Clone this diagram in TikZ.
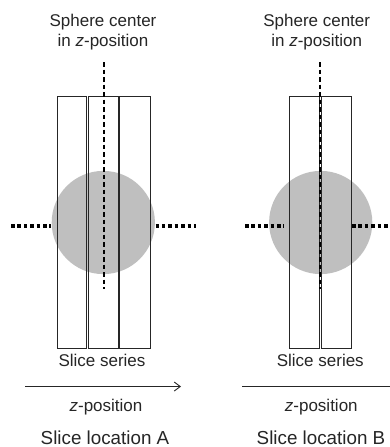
\documentclass[tikz,border=0pt]{standalone}
\usepackage{fontspec}
\setmainfont{Liberation Sans}
\usetikzlibrary{arrows.meta}
\begin{document}
\begin{tikzpicture}[x=1pt,y=-1pt,
  lbl/.style={font=\fontsize{17}{19}\selectfont, anchor=base, inner sep=0pt, text=black!85},
  biglbl/.style={font=\fontsize{18.8}{21}\selectfont, anchor=base, inner sep=0pt, text=black!85},
  slicebox/.style={draw=black!85, line width=1pt},
  sphere/.style={fill=black!25, draw=none},
  centerline/.style={draw=black, line width=2pt, dash pattern=on 4.5pt off 3pt},
  sideline/.style={draw=black, line width=3.5pt, dash pattern=on 3.5pt off 2.9pt},
  zarrow/.style={draw=black!85, line width=0.9pt, -{Straight Barb[length=6pt,width=9pt]}}]
\clip (0,0) rectangle (390,447);
\fill[white] (0,0) rectangle (390,447);
% ---------- Panel A ----------
\fill[sphere] (103.3,222.5) circle (51.6);
\coordinate (sA) at (103.3,222.5);
\draw[slicebox] (57.3,96.7) rectangle (86.7,348);
\draw[slicebox] (88,96.7) rectangle (118.3,348);
\draw[slicebox] (119.7,96.7) rectangle (150,348);
\coordinate (cAt) at (104,62);
\coordinate (cAb) at (104,289);
\draw[centerline] (cAt) -- (cAb);
\coordinate (hA1) at (11,226);
\coordinate (hA2) at (51,226);
\coordinate (hA3) at (155.5,226);
\coordinate (hA4) at (196,226);
\draw[sideline] (hA1) -- (hA2);
\draw[sideline] (hA3) -- (hA4);
\node[lbl] (tA1) at (103,27) {Sphere center};
\node[lbl] (tA2) at (103,46) {in \textit{z}-position};
\node[lbl] (sA1) at (102,366) {Slice series};
\coordinate (aA1) at (25,386.5);
\coordinate (aA2) at (181,386.5);
\draw[zarrow] (aA1) -- (aA2);
\node[lbl] (zA) at (106,411) {\textit{z}-position};
\node[biglbl] (bA) at (105,444) {Slice location A};
% ---------- Panel B ----------
\fill[sphere] (320.7,222.5) circle (51.6);
\draw[slicebox] (289,96.7) rectangle (319.3,348);
\draw[slicebox] (321,96.7) rectangle (351.3,348);
\coordinate (cBt) at (320.3,62);
\coordinate (cBb) at (320.3,289);
\draw[centerline] (cBt) -- (cBb);
\coordinate (hB1) at (245,226);
\coordinate (hB2) at (284,226);
\coordinate (hB3) at (352,226);
\coordinate (hB4) at (392,226);
\draw[sideline] (hB1) -- (hB2);
\draw[sideline] (hB3) -- (hB4);
\node[lbl] (tB1) at (316.7,27) {Sphere center};
\node[lbl] (tB2) at (316.7,46) {in \textit{z}-position};
\node[lbl] (sB1) at (320.3,366) {Slice series};
\coordinate (aB1) at (242,386.5);
\coordinate (aB2) at (398,386.5);
\draw[zarrow] (aB1) -- (aB2);
\node[lbl] (zB) at (321.3,411) {\textit{z}-position};
\node[biglbl] (bB) at (321,444) {Slice location B};
\end{tikzpicture}
\end{document}
